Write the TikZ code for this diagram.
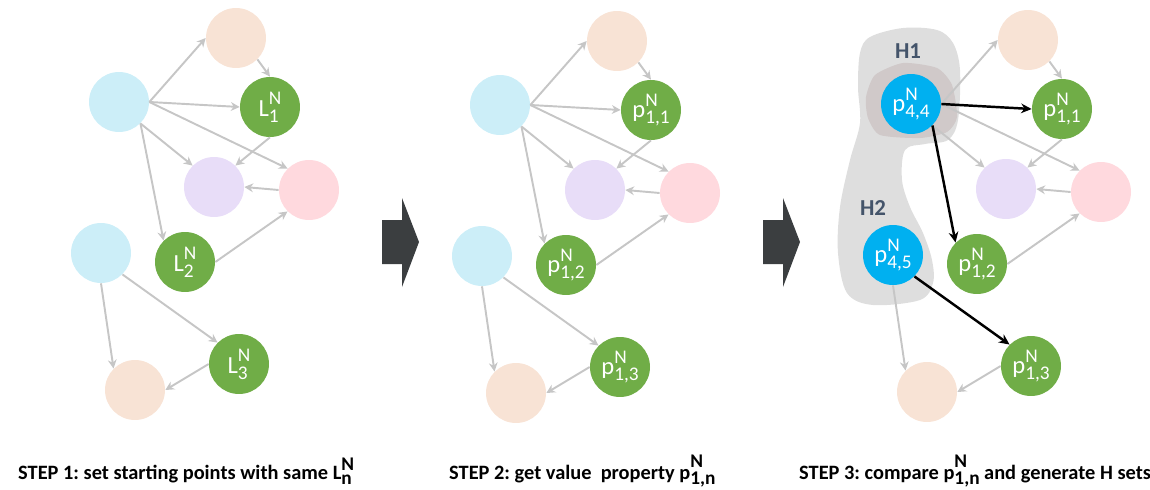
\documentclass[tikz,border=0pt]{standalone}
\usepackage{fontspec}
\setmainfont{Carlito}
\usetikzlibrary{arrows.meta}
\frenchspacing

\definecolor{skyblue}{HTML}{CCEEF8}
\definecolor{peach}{HTML}{F8E3D5}
\definecolor{leaf}{HTML}{70AD47}
\definecolor{lilac}{HTML}{E8DDF8}
\definecolor{rose}{HTML}{FFD9DE}
\definecolor{deepsky}{HTML}{00B0F0}
\definecolor{linkgray}{HTML}{C6C6C6}
\definecolor{chevgray}{HTML}{3B3E40}
\definecolor{blobgray}{HTML}{DEDEDE}
\definecolor{coregray}{HTML}{D0C9C9}
\definecolor{slate}{HTML}{44546A}

\newcommand{\supsub}[3]{#1\raisebox{-3.4pt}{\fontsize{11}{11}\selectfont\shortstack[l]{#2\\#3}}}

\tikzset{
  dot/.style={circle,minimum size=1.2cm,inner sep=0pt,text=white,
    font=\fontsize{14}{14}\selectfont},
  link/.style={draw=linkgray,line width=1.1pt,-{Stealth[length=5pt,width=5pt]}},
  pick/.style={draw=black,line width=1.4pt,-{Stealth[length=6pt,width=5.5pt]}},
  steptext/.style={anchor=base west,font=\bfseries\fontsize{11.6}{12}\selectfont},
  settext/.style={text=slate,font=\bfseries\fontsize{13}{13}\selectfont}
}

\begin{document}
\begin{tikzpicture}[x=0.02cm,y=-0.02cm]
  \useasboundingbox (0,0) rectangle (1150,490);

  % step 1
  \begin{scope}[every node/.style={dot}]
    \node (A1)[fill=skyblue] at (119,102) {};
    \node (C1)[fill=peach] at (236,38) {};
    \node (D1)[fill=leaf] at (270,107) {\supsub{L}{N}{1}};
    \node (E1)[fill=lilac] at (214,187) {};
    \node (F1)[fill=rose] at (309,190) {};
    \node (B1)[fill=skyblue] at (101,253) {};
    \node (G1)[fill=leaf] at (185,262) {\supsub{L}{N}{2}};
    \node (H1)[fill=leaf] at (239,364) {\supsub{L}{N}{3}};
    \node (I1)[fill=peach] at (135,390) {};
  \end{scope}
  \begin{scope}[every edge/.style={link}]
    \path (A1.east) edge (C1.west);
    \path (A1.east) edge (D1.west);
    \path (A1.south east) edge (E1.north west);
    \path (A1.east) edge (F1.north west);
    \path (A1.south east) edge (G1.north west);
    \path (C1.south east) edge (D1.north);
    \path (D1.south) edge (E1.north east);
    \path (F1.west) edge (E1.east);
    \path (G1.east) edge (F1.south west);
    \path (B1.south) edge (I1.north west);
    \path (B1.south east) edge (H1.north west);
    \path (H1.west) edge (I1.east);
  \end{scope}

  % step 2
  \begin{scope}[shift={(381,3)},every node/.style={dot}]
    \node (A2)[fill=skyblue] at (119,102) {};
    \node (C2)[fill=peach] at (236,38) {};
    \node (D2)[fill=leaf] at (270,107) {\supsub{p}{N}{1,1}};
    \node (E2)[fill=lilac] at (214,187) {};
    \node (F2)[fill=rose] at (309,190) {};
    \node (B2)[fill=skyblue] at (101,253) {};
    \node (G2)[fill=leaf] at (185,262) {\supsub{p}{N}{1,2}};
    \node (H2)[fill=leaf] at (239,364) {\supsub{p}{N}{1,3}};
    \node (I2)[fill=peach] at (135,390) {};
  \end{scope}
  \begin{scope}[every edge/.style={link}]
    \path (A2.east) edge (C2.west);
    \path (A2.east) edge (D2.west);
    \path (A2.south east) edge (E2.north west);
    \path (A2.east) edge (F2.north west);
    \path (A2.south east) edge (G2.north west);
    \path (C2.south east) edge (D2.north);
    \path (D2.south) edge (E2.north east);
    \path (F2.west) edge (E2.east);
    \path (G2.east) edge (F2.south west);
    \path (B2.south) edge (I2.north west);
    \path (B2.south east) edge (H2.north west);
    \path (H2.west) edge (I2.east);
  \end{scope}

  % step 3: H sets behind the nodes
  \fill[blobgray] plot[smooth cycle,tension=0.55] coordinates {(860,53) (870,37)
    (903,28) (937,30) (953,43) (960,70) (958,120) (948,140) (925,144) (905,150)
    (902,180) (910,207) (923,233) (932,260) (933,283) (920,300) (873,305)
    (847,293) (838,253) (840,207) (850,160) (860,123) (858,87)};
  \fill[coregray] plot[smooth cycle,tension=0.4] coordinates {(875,75) (903,63)
    (937,68) (952,85) (957,117) (947,132) (920,138) (880,135) (868,118) (866,97)};
  \node (set1)[settext] at (908,51) {H1};
  \node (set2)[settext] at (873,208) {H2};

  \begin{scope}[shift={(792,2)},every node/.style={dot}]
    \node (A3)[fill=deepsky] at (119,102) {\supsub{p}{N}{4,4}};
    \node (C3)[fill=peach] at (236,38) {};
    \node (D3)[fill=leaf] at (270,107) {\supsub{p}{N}{1,1}};
    \node (E3)[fill=lilac] at (214,187) {};
    \node (F3)[fill=rose] at (309,190) {};
    \node (B3)[fill=deepsky] at (101,253) {\supsub{p}{N}{4,5}};
    \node (G3)[fill=leaf] at (185,262) {\supsub{p}{N}{1,2}};
    \node (H3)[fill=leaf] at (239,364) {\supsub{p}{N}{1,3}};
    \node (I3)[fill=peach] at (135,390) {};
  \end{scope}
  \begin{scope}[every edge/.style={link}]
    \path (A3.east) edge (C3.west);
    \path (A3.south east) edge (E3.north west);
    \path (A3.east) edge (F3.north west);
    \path (C3.south east) edge (D3.north);
    \path (D3.south) edge (E3.north east);
    \path (F3.west) edge (E3.east);
    \path (G3.east) edge (F3.south west);
    \path (B3.south) edge (I3.north west);
    \path (H3.west) edge (I3.east);
    \path (A3.east) edge[pick] (D3.west);
    \path (A3.south east) edge[pick] (G3.north west);
    \path (B3.south east) edge[pick] (H3.north west);
  \end{scope}

  % arrows between the steps
  \fill[chevgray] (382,220) -- (402,220) -- (402,198) -- (419,242) -- (402,287)
    -- (402,264) -- (382,264) -- cycle;
  \fill[chevgray] (763,220) -- (783,220) -- (783,198) -- (800,242) -- (783,287)
    -- (783,264) -- (763,264) -- cycle;

  \node (cap1)[steptext] at (12,479) {STEP 1: set starting points with same \supsub{L}{N}{n}};
  \node (cap2)[steptext] at (443,479) {STEP 2: get value~ property \supsub{p}{N}{1,n}};
  \node (cap3)[steptext] at (793,479) {STEP 3: compare \supsub{p}{N}{1,n} and generate H sets};
\end{tikzpicture}
\end{document}
